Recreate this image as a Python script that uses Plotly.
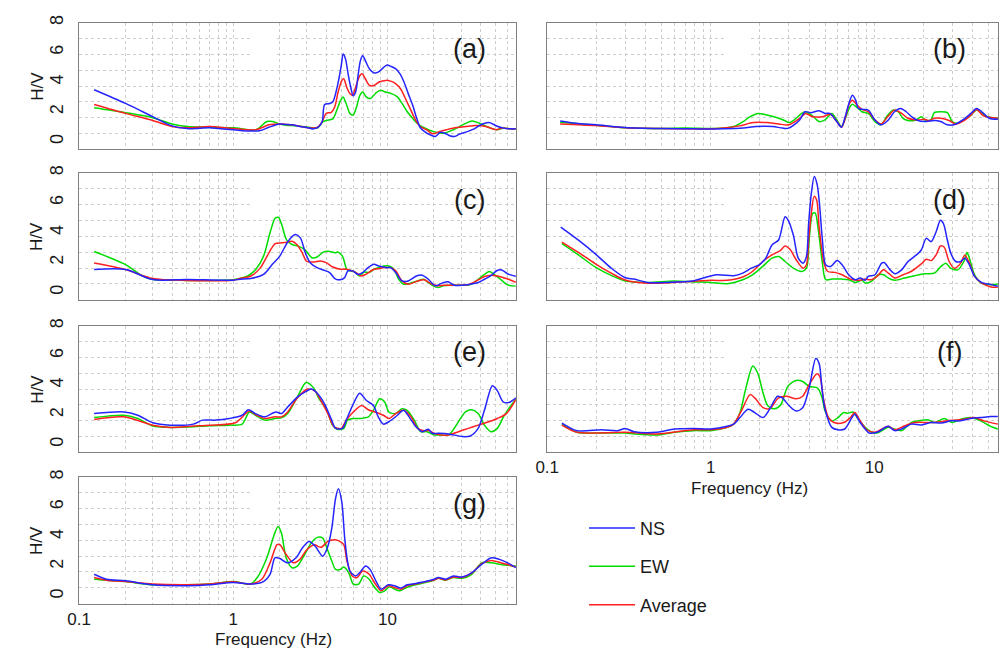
import plotly.graph_objects as go

# ---------------- data: (frequency Hz, H/V) ----------------
A_NS = [(0.125,3.5),(0.2,2.58),(0.3,1.69),(0.4,1.07),(0.5,0.89),(0.7,0.94),(0.8,0.89),(1.0,0.81),(1.3,0.72),(1.5,0.76),(1.7,0.98),(2.0,1.2),(2.2,1.17),(2.41,1.14),(2.7,1.03),(2.99,0.96),(3.31,0.87),(3.59,1.03),(3.77,1.36),(3.91,2.51),(4.23,2.58),(4.42,2.69),(4.74,3.79),(5.01,5.12),(5.15,5.9),(5.34,5.57),(5.57,4.46),(5.8,3.57),(5.98,3.09),(6.21,3.35),(6.44,4.46),(6.67,5.46),(6.9,5.79),(7.18,5.46),(7.64,4.9),(8.19,4.63),(8.69,4.68),(9.29,4.94),(9.94,5.17),(10.58,5.06),(11.32,4.9),(12.05,4.57),(12.79,4.02),(13.62,3.24),(14.54,2.47),(15.46,1.58),(16.28,0.96),(17.57,0.65),(18.95,0.47),(20.42,0.36),(21.9,0.63),(23.55,0.58),(25.3,0.41),(27.23,0.36),(29.35,0.52),(32.2,0.65),(36.52,0.87),(40.3,1.15),(45.54,1.3),(51.43,1.05),(56.67,0.92),(62.56,0.87),(68,0.87)]
A_EW = [(0.125,2.29),(0.2,1.96),(0.3,1.62),(0.4,1.2),(0.5,1.03),(0.7,0.98),(1.0,0.94),(1.4,0.81),(1.65,1.36),(1.8,1.36),(2.0,1.2),(2.2,1.12),(2.41,1.09),(2.99,1.0),(3.5,0.92),(3.82,1.36),(4.14,1.47),(4.42,1.54),(4.69,2.13),(4.97,2.8),(5.15,3.02),(5.43,2.47),(5.7,1.91),(5.98,1.8),(6.26,2.25),(6.62,3.13),(6.9,3.35),(7.27,3.02),(7.73,2.91),(8.46,3.31),(9.02,3.46),(9.66,3.35),(10.58,3.24),(11.59,3.02),(12.42,2.58),(13.43,2.02),(14.54,1.58),(15.55,1.25),(17.11,0.96),(19.69,0.7),(23,0.58),(26.68,0.81),(30.73,1.14),(35.33,1.4),(39.38,1.25),(45.54,0.96),(51.43,0.81),(56.67,0.92),(62.56,0.87),(68,0.87)]
A_AVG = [(0.125,2.51),(0.2,1.91),(0.3,1.43),(0.4,1.03),(0.5,0.94),(0.7,1.03),(1.0,0.89),(1.4,0.81),(1.7,1.14),(2.0,1.2),(2.2,1.17),(2.41,1.14),(2.99,0.96),(3.5,0.96),(3.77,1.36),(4.0,1.91),(4.32,1.98),(4.55,2.36),(4.78,3.35),(5.06,4.13),(5.2,4.24),(5.43,3.68),(5.7,3.24),(5.93,3.13),(6.26,3.79),(6.62,4.46),(6.85,4.57),(7.18,4.24),(7.64,3.79),(8.19,3.79),(8.83,4.02),(9.75,4.13),(10.58,4.06),(11.32,3.9),(12.14,3.57),(13.06,2.91),(14.17,2.13),(15.18,1.47),(16.28,1.03),(17.94,0.81),(19.69,0.54),(21.9,0.7),(24.1,0.81),(27.97,0.96),(32.2,1.03),(37.44,1.09),(43.52,1.03),(50.42,0.81),(55.2,0.92),(62.56,0.87),(68,0.87)]

B_NS = [(0.12,1.4),(0.15,1.25),(0.2,1.14),(0.3,0.96),(0.5,0.89),(0.8,0.87),(1.2,0.87),(1.58,0.92),(1.9,1.03),(2.4,1.03),(2.75,0.92),(3.0,0.92),(3.5,1.47),(3.77,2.02),(4.1,1.96),(4.6,2.09),(5.0,1.91),(5.35,1.91),(5.9,1.36),(6.3,0.98),(6.6,1.58),(7.0,2.58),(7.35,3.13),(7.7,2.8),(8.0,2.24),(8.6,2.18),(9.2,2.13),(10.1,1.47),(11,1.14),(12.2,1.47),(13.3,2.02),(14.5,2.24),(15.7,2.02),(16.9,1.69),(18.5,1.43),(20.3,1.36),(23.3,1.43),(25.5,1.36),(28,1.14),(30.7,1.14),(34.8,1.47),(39,1.91),(42.3,2.24),(46.6,1.91),(50.5,1.58),(57,1.51)]
B_EW = [(0.12,1.31),(0.2,1.12),(0.3,0.94),(0.5,0.89),(0.7,0.92),(1.0,0.89),(1.2,0.92),(1.38,1.03),(1.58,1.36),(1.74,1.69),(1.95,1.91),(2.2,1.8),(2.5,1.65),(2.83,1.43),(3.0,1.29),(3.2,1.43),(3.6,1.91),(3.8,2.02),(4.2,1.74),(4.6,1.36),(5.0,1.47),(5.5,1.91),(5.9,1.47),(6.3,1.03),(6.6,1.47),(7.1,2.35),(7.35,2.53),(7.85,2.31),(8.4,2.02),(9.2,1.91),(10.1,1.36),(11,1.14),(11.9,1.69),(13,2.13),(14,2.02),(15,1.58),(16.1,1.43),(18,1.47),(19.4,1.69),(20.7,1.43),(22.2,1.47),(23.3,1.96),(25.5,2.02),(28,1.96),(30,1.36),(32.3,1.25),(35.4,1.47),(39,1.8),(42.3,2.13),(45.6,1.91),(49.1,1.69),(57,1.58)]
B_AVG = [(0.12,1.2),(0.2,1.09),(0.3,0.94),(0.5,0.89),(1.0,0.87),(1.2,0.92),(1.5,1.07),(1.82,1.29),(2.2,1.29),(2.6,1.2),(3.0,1.14),(3.5,1.58),(3.8,1.91),(4.2,1.69),(4.85,1.69),(5.4,1.85),(5.9,1.36),(6.3,0.98),(6.6,1.47),(7.05,2.58),(7.35,2.8),(7.85,2.47),(8.4,2.18),(9.2,2.02),(10.1,1.47),(11,1.2),(12.2,1.74),(13.3,2.13),(14.7,1.91),(16.1,1.58),(18.5,1.47),(20.3,1.51),(21.7,1.43),(23.3,1.58),(25.5,1.58),(28.7,1.43),(31.5,1.2),(35.4,1.43),(39,1.8),(42.3,2.18),(46.6,1.74),(57,1.58)]

C_NS = [(0.125,1.53),(0.2,1.53),(0.3,0.86),(0.5,0.86),(1.0,0.82),(1.1,0.88),(1.3,0.93),(1.57,1.21),(1.79,1.88),(2.0,2.43),(2.27,3.43),(2.52,3.87),(2.72,3.65),(2.93,2.65),(3.15,1.99),(3.49,1.66),(3.83,1.5),(4.21,1.33),(4.55,0.93),(4.89,0.84),(5.27,0.99),(5.53,1.44),(5.95,1.44),(6.42,1.21),(6.89,1.33),(7.48,1.66),(8.16,1.88),(8.76,1.77),(9.78,1.66),(10.46,1.66),(11.3,1.33),(12.4,0.77),(13.6,0.77),(15.4,1.1),(16.8,1.15),(18.4,0.88),(20.4,0.44),(22.5,0.62),(24.7,0.71),(27.1,0.48),(30.6,0.48),(34.4,0.55),(38.8,0.66),(42.6,0.88),(46.6,1.1),(51,1.45),(55,1.5),(60,1.25),(68,1.08)]
C_EW = [(0.125,2.74),(0.16,2.3),(0.2,1.86),(0.26,1.08),(0.3,0.86),(0.39,0.82),(0.5,0.8),(0.7,0.8),(1.0,0.84),(1.1,0.93),(1.24,1.1),(1.4,1.55),(1.57,2.43),(1.74,4.09),(1.87,4.98),(1.96,5.02),(2.06,4.53),(2.21,3.54),(2.4,3.21),(2.64,3.1),(2.93,2.83),(3.23,2.32),(3.49,2.37),(3.83,2.7),(4.12,2.76),(4.55,2.65),(4.76,2.7),(5.1,2.43),(5.44,1.55),(5.7,1.44),(6.12,1.37),(6.55,1.1),(7.06,1.37),(7.57,1.33),(8.16,1.55),(8.76,1.66),(9.44,1.77),(10.2,1.77),(11.0,1.55),(11.8,0.89),(12.7,0.55),(13.9,0.6),(15.7,0.77),(17.2,0.88),(18.4,0.66),(19.8,0.44),(21.3,0.33),(23,0.44),(25.2,0.48),(27.7,0.48),(32,0.48),(35.2,0.55),(38.8,0.88),(42.6,1.21),(45.7,1.4),(49.2,1.2),(54,0.88),(60,0.5),(68,0.42)]
C_AVG = [(0.125,1.97),(0.2,1.53),(0.3,0.93),(0.5,0.8),(1.0,0.82),(1.1,0.93),(1.3,1.1),(1.5,1.66),(1.7,2.65),(1.87,3.27),(2.06,3.32),(2.21,3.36),(2.4,3.43),(2.58,3.21),(2.8,2.65),(2.98,2.1),(3.32,2.03),(3.66,2.1),(4.0,1.99),(4.42,1.7),(4.93,1.55),(5.44,1.55),(5.87,1.44),(6.25,1.33),(6.72,1.1),(7.23,1.21),(8.0,1.5),(8.76,1.59),(9.78,1.66),(10.46,1.66),(11.3,1.44),(12.4,0.77),(13.6,0.55),(15.4,0.73),(17.2,0.84),(18.9,0.62),(21,0.44),(23,0.48),(26.4,0.48),(30.6,0.48),(33.6,0.53),(37.8,0.77),(42.6,1.06),(46.9,1.15),(51.4,1.1),(56,1.0),(62,0.85),(68,0.68)]

D_NS = [(0.121,4.37),(0.156,3.48),(0.196,2.6),(0.248,1.6),(0.3,0.98),(0.34,0.89),(0.41,0.67),(0.54,0.67),(0.79,0.78),(0.9,0.96),(1.09,1.18),(1.38,1.12),(1.57,1.29),(1.77,1.62),(1.98,1.85),(2.17,2.29),(2.37,3.18),(2.6,3.51),(2.85,5.06),(2.98,4.83),(3.2,3.84),(3.43,2.29),(3.67,1.96),(3.85,2.4),(3.97,4.61),(4.12,6.6),(4.3,7.76),(4.48,7.2),(4.62,6.0),(4.82,3.51),(5.05,1.85),(5.41,1.74),(5.93,2.14),(6.36,1.85),(6.98,1.18),(7.66,0.85),(8.2,0.96),(8.8,0.81),(9.2,1.07),(10.1,1.18),(11.1,1.96),(11.5,2.0),(12.5,1.51),(13.4,1.25),(14.7,1.51),(16.1,2.07),(18.1,2.51),(19.4,2.84),(20.8,3.62),(22.3,3.4),(23.9,4.06),(25.4,4.83),(26.5,4.61),(28,3.51),(29.4,2.62),(31.5,2.07),(33.8,2.07),(35.8,2.29),(38.2,1.85),(41.1,1.07),(45.2,0.67),(51.9,0.52),(57,0.41)]
D_EW = [(0.123,3.26),(0.156,2.49),(0.196,1.71),(0.248,1.12),(0.3,0.76),(0.41,0.67),(0.6,0.76),(0.79,0.7),(1.0,0.67),(1.26,0.58),(1.57,0.85),(1.8,1.18),(2.08,1.74),(2.37,2.29),(2.6,2.4),(2.85,2.07),(3.2,1.62),(3.6,1.4),(3.85,1.62),(4.0,3.51),(4.2,5.28),(4.35,5.32),(4.55,4.17),(4.82,1.96),(5.05,0.85),(5.53,0.89),(6.36,0.89),(6.98,0.85),(7.66,0.67),(8.4,0.81),(8.8,0.63),(9.6,0.74),(10.6,1.18),(11.4,1.18),(12.2,0.96),(13.4,0.81),(15.3,0.96),(17.7,1.12),(20.3,1.25),(23.3,1.29),(25.6,1.74),(27.4,1.96),(29.3,1.62),(32.4,1.51),(35.3,2.07),(36.9,2.67),(38.2,2.29),(41.1,1.18),(45.2,0.63),(51.9,0.52),(57,0.56)]
D_AVG = [(0.123,3.37),(0.156,2.66),(0.196,1.93),(0.248,1.27),(0.3,0.83),(0.41,0.61),(0.79,0.74),(1.0,0.81),(1.26,0.81),(1.57,1.03),(1.8,1.4),(2.08,2.07),(2.37,2.51),(2.66,2.8),(2.85,3.11),(3.05,2.89),(3.35,2.14),(3.67,1.62),(3.85,1.85),(3.97,3.51),(4.12,5.28),(4.29,6.43),(4.45,6.16),(4.6,4.39),(4.93,1.96),(5.2,1.4),(5.76,1.34),(6.36,1.18),(7.15,0.89),(8.0,0.81),(8.8,0.89),(9.6,0.85),(10.4,1.07),(11.4,1.51),(12.2,1.29),(13.4,0.96),(15,1.18),(16.8,1.4),(19.4,1.91),(20.8,2.22),(22.3,2.13),(23.9,2.51),(25.4,3.11),(26.8,3.02),(28.7,2.07),(30.9,1.62),(33.8,1.96),(35.8,2.51),(38.2,1.96),(41.1,1.07),(45.2,0.63),(51.9,0.36),(57,0.36)]

E_NS = [(0.125,2.09),(0.195,2.2),(0.24,1.98),(0.3,1.47),(0.39,1.31),(0.55,1.38),(0.63,1.65),(0.77,1.65),(0.94,1.76),(1.14,1.98),(1.25,2.35),(1.39,2.09),(1.6,1.87),(1.77,2.09),(1.9,2.2),(2.05,2.09),(2.25,2.53),(2.6,3.2),(2.96,3.59),(3.2,3.75),(3.5,3.46),(3.9,2.75),(4.3,1.76),(4.6,1.09),(5.1,1.09),(5.4,1.65),(6.0,2.75),(6.6,3.46),(7.3,2.97),(8.1,2.64),(8.7,1.87),(9.4,1.38),(10.2,1.54),(11.6,1.98),(12.7,2.31),(13.8,1.87),(15.3,1.2),(16.8,0.87),(18.4,1.03),(19.5,0.76),(21.4,0.76),(24.9,0.72),(30.5,0.54),(34.4,0.58),(38.7,1.09),(42.5,2.31),(47.9,3.97),(51.5,3.64),(56.5,2.86),(62,2.86),(68,3.15)]
E_EW = [(0.125,1.82),(0.195,1.98),(0.24,1.76),(0.3,1.25),(0.39,1.16),(0.55,1.2),(0.7,1.27),(0.94,1.31),(1.14,1.38),(1.27,2.2),(1.39,1.98),(1.6,1.65),(1.86,1.76),(2.05,1.8),(2.25,2.09),(2.6,3.2),(2.96,4.19),(3.3,3.86),(3.6,3.09),(4.0,2.42),(4.4,1.31),(4.7,1.03),(5.2,1.09),(5.5,1.65),(6.0,1.76),(6.6,1.76),(7.5,1.87),(8.1,2.31),(8.9,3.09),(9.6,2.86),(10.2,2.2),(11.3,2.09),(12.4,2.42),(13.4,2.31),(14.9,1.65),(16.4,0.87),(18,0.87),(20,0.65),(21.4,0.65),(24.9,0.65),(27.5,1.2),(32,2.2),(35.2,2.35),(38.7,2.09),(42.5,1.31),(46.8,0.87),(51.5,1.09),(56.5,1.87),(62,2.53),(68,3.05)]
E_AVG = [(0.125,1.69),(0.195,1.87),(0.3,1.31),(0.39,1.16),(0.55,1.25),(0.7,1.31),(1.03,1.47),(1.27,2.27),(1.39,2.02),(1.6,1.76),(1.86,1.87),(2.05,1.87),(2.25,2.2),(2.6,3.15),(3.03,3.75),(3.4,3.59),(3.7,2.97),(4.1,2.09),(4.5,1.2),(5.0,1.09),(5.4,1.65),(6.0,2.2),(6.8,2.64),(7.5,2.35),(8.3,2.2),(9.4,1.98),(10.2,1.76),(11.3,2.09),(12.7,2.31),(14.2,1.87),(15.7,1.09),(17.2,0.94),(18.6,0.94),(20.4,0.72),(24.9,0.65),(28.8,0.87),(33.4,1.09),(38.7,1.31),(45.4,1.54),(51.5,1.76),(59,2.09),(68,3.05)]

F_NS = [(0.123,1.45),(0.152,0.94),(0.215,1.0),(0.27,0.94),(0.3,1.09),(0.34,0.87),(0.47,0.83),(0.6,1.05),(0.79,1.09),(1.0,1.05),(1.26,1.23),(1.38,1.38),(1.51,1.82),(1.69,2.38),(1.86,2.16),(2.09,1.82),(2.29,2.38),(2.56,3.26),(2.74,3.15),(3.03,2.6),(3.33,2.27),(3.65,2.49),(4.0,3.82),(4.39,5.81),(4.6,5.48),(4.8,3.71),(5.0,2.38),(5.5,1.16),(6.0,1.0),(6.6,1.05),(7.3,1.82),(7.6,2.05),(8.2,1.49),(8.8,1.05),(9.3,0.78),(10.4,0.83),(12.2,1.23),(13.3,0.94),(14.7,1.05),(16.9,1.38),(19.3,1.32),(22.3,1.49),(25.7,1.45),(29.5,1.6),(33.8,1.6),(38.9,1.76),(44.8,1.82),(51.5,1.89),(57,1.89)]
F_EW = [(0.123,1.38),(0.152,0.83),(0.215,0.78),(0.3,0.78),(0.34,0.72),(0.47,0.65),(0.6,0.83),(0.79,0.94),(1.0,0.94),(1.26,1.16),(1.38,1.38),(1.51,2.16),(1.65,3.93),(1.81,5.3),(1.94,4.81),(2.09,3.48),(2.24,2.6),(2.45,2.42),(2.69,2.71),(2.96,3.93),(3.33,4.33),(3.65,4.26),(4.0,3.93),(4.5,3.82),(4.8,3.15),(5.0,2.27),(5.5,1.6),(6.0,1.82),(6.5,2.16),(6.9,2.11),(7.4,2.2),(8.0,1.71),(8.8,1.16),(9.7,0.83),(10.4,0.78),(12.2,1.16),(13.3,1.05),(14.7,0.94),(16.9,1.49),(18.6,1.6),(21.3,1.67),(23.4,1.49),(26.8,1.76),(30,1.49),(33.8,1.71),(38.9,1.82),(44.8,1.6),(51.5,1.23),(57,1.05)]
F_AVG = [(0.123,1.31),(0.152,0.83),(0.3,0.83),(0.47,0.72),(0.79,1.0),(1.0,1.0),(1.26,1.16),(1.38,1.38),(1.54,2.27),(1.74,3.37),(1.86,3.15),(2.09,2.49),(2.29,2.42),(2.6,3.15),(2.9,3.26),(3.33,3.09),(3.65,3.26),(4.0,4.04),(4.45,4.77),(4.65,4.59),(4.9,3.04),(5.25,1.82),(5.8,1.45),(6.5,1.49),(7.15,1.82),(7.6,2.16),(8.2,1.6),(9.0,1.0),(10.1,0.83),(12.2,1.23),(13.3,1.0),(15.4,1.27),(17.8,1.49),(22.3,1.49),(28.1,1.6),(35.5,1.71),(40.8,1.82),(46.8,1.6),(57,1.38)]

G_NS = [(0.125,1.47),(0.15,1.14),(0.2,1.03),(0.3,0.76),(0.5,0.7),(0.7,0.76),(1.0,0.92),(1.29,0.81),(1.53,0.92),(1.73,1.47),(1.86,2.58),(2.0,2.53),(2.25,2.24),(2.55,2.58),(2.8,3.24),(3.1,3.68),(3.4,3.35),(3.8,2.69),(4.1,3.35),(4.35,4.57),(4.6,6.56),(4.8,7.22),(5.05,6.34),(5.3,3.68),(5.7,1.69),(6.2,1.36),(6.6,1.58),(7.2,2.02),(7.7,1.8),(8.5,0.92),(9.1,0.47),(10.1,0.76),(11.1,0.7),(12.2,0.54),(13.4,0.76),(15.2,0.85),(17.6,0.98),(20,1.14),(21.4,1.25),(23.8,1.14),(26.7,1.36),(30.4,1.29),(35.2,1.58),(40.8,2.13),(47.1,2.58),(53.2,2.47),(60.2,2.24),(68,1.91)]
G_EW = [(0.125,1.14),(0.15,1.07),(0.2,0.98),(0.3,0.76),(0.5,0.76),(0.7,0.81),(1.0,0.98),(1.29,0.81),(1.43,1.25),(1.65,2.58),(1.84,4.13),(1.95,4.68),(2.05,4.24),(2.2,2.58),(2.4,1.91),(2.6,2.02),(2.9,2.8),(3.2,3.57),(3.5,3.95),(3.8,3.9),(4.0,3.35),(4.35,2.36),(4.6,1.8),(4.95,1.8),(5.2,1.96),(5.6,1.58),(6.0,0.81),(6.5,0.81),(7.0,1.36),(7.6,1.14),(8.1,0.7),(8.9,0.25),(9.6,0.36),(10.3,0.63),(11.1,0.47),(12,0.36),(13.3,0.58),(15.2,0.76),(17.6,0.92),(20,1.07),(21.4,1.2),(23.8,1.07),(26.7,1.25),(30.4,1.2),(35.2,1.47),(40.8,2.24),(47.1,2.24),(54.5,2.13),(68,2.02)]
G_AVG = [(0.125,1.25),(0.15,1.07),(0.2,0.98),(0.3,0.81),(0.5,0.76),(0.7,0.81),(1.0,0.96),(1.29,0.81),(1.53,1.14),(1.73,2.24),(1.92,3.46),(2.0,3.46),(2.2,2.8),(2.45,2.24),(2.7,2.47),(3.0,3.13),(3.35,3.46),(3.7,3.28),(4.1,3.68),(4.5,3.79),(4.8,3.73),(5.2,3.46),(5.45,2.36),(5.9,1.36),(6.35,1.25),(6.9,1.69),(7.6,1.47),(8.3,0.85),(9.1,0.36),(10.1,0.7),(11.1,0.58),(12.2,0.47),(13.4,0.7),(15.2,0.81),(17.6,0.96),(20,1.09),(21.4,1.2),(23.8,1.09),(26.7,1.29),(30.4,1.25),(35.2,1.54),(40.8,2.18),(47.1,2.4),(54.5,2.24),(68,1.96)]

PANEL_LABELS = ["(a)", "(b)", "(c)", "(d)", "(e)", "(f)", "(g)"]
PANEL_DATA = [(A_NS, A_EW, A_AVG), (B_NS, B_EW, B_AVG), (C_NS, C_EW, C_AVG),
              (D_NS, D_EW, D_AVG), (E_NS, E_EW, E_AVG), (F_NS, F_EW, F_AVG),
              (G_NS, G_EW, G_AVG)]
SERIES_NAMES = ["NS", "EW", "Average"]
Y_TICKS = [0, 2, 4, 6, 8]
X_TICKS = [0.1, 1, 10]
X_TICK_TEXT = ["0.1", "1", "10"]
X_MINOR = [0.2, 0.3, 0.4, 0.5, 0.6, 0.7, 0.8, 0.9, 2, 3, 4, 5, 6, 7, 8, 9, 20, 30, 40, 50, 60]

# ---------------- styling / layout ----------------
W, H = 1000, 650
FONT = "Liberation Sans, Arial, sans-serif"
COLORS = {"NS": "#2424ff", "EW": "#00dc00", "Average": "#ff2020"}
DRAW_ORDER = ["EW", "Average", "NS"]
GRID = "#cdcdcd"
FRAME = "#808080"
Y_RANGE = [-0.5, 8.0]
Y_GRID = [Y_RANGE[0] + k * (Y_RANGE[1] - Y_RANGE[0]) / 8 for k in range(1, 8)]

COLS = [(68, 510, 1.8325), (541.7, 998, 1.757)]
ROWS = [(15, 143), (167, 295.5), (322, 449.5), (475, 603)]
POS = [(0, 0), (0, 1), (1, 0), (1, 1), (2, 0), (2, 1), (3, 0)]  # (row, col)
SHOW_X_LABELS = {5, 6}
BOX_FX, BOX_FY = 0.81, 0.70   # white patch behind panel label (fraction of panel)

fig = go.Figure()
layout = dict(
    width=W, height=H, margin=dict(l=0, r=0, t=0, b=0), autosize=False,
    paper_bgcolor="white", plot_bgcolor="white",
    font=dict(family=FONT, color="#1a1a1a"),
    shapes=[], annotations=[],
)

for i, (series, label, (r, c)) in enumerate(zip(PANEL_DATA, PANEL_LABELS, POS)):
    n = i + 1
    xs = "x" if n == 1 else f"x{n}"
    ys = "y" if n == 1 else f"y{n}"
    x0, x1, xr = COLS[c]
    y0, y1 = ROWS[r]
    sd = dict(zip(SERIES_NAMES, series))
    for name in DRAW_ORDER:
        pts = sd[name]
        fig.add_trace(go.Scatter(
            x=[p[0] for p in pts], y=[p[1] for p in pts], mode="lines",
            line=dict(color=COLORS[name], width=1.5, shape="spline", smoothing=0.8),
            name=name, legendgroup=name, legendrank=SERIES_NAMES.index(name) + 1,
            showlegend=(n == 7), xaxis=xs, yaxis=ys, hoverinfo="skip"))
    layout["xaxis" if n == 1 else f"xaxis{n}"] = dict(
        domain=[x0 / W, x1 / W], anchor=ys, type="log", range=[-1, xr],
        tickmode="array", tickvals=X_TICKS, ticktext=X_TICK_TEXT,
        showticklabels=(i in SHOW_X_LABELS), ticks="", ticklen=0,
        tickfont=dict(size=17, family=FONT, color="#1a1a1a"),
        showgrid=True, gridcolor=GRID, griddash="dot", gridwidth=1,
        minor=dict(tickmode="array", tickvals=X_MINOR, showgrid=True,
                   gridcolor=GRID, griddash="dot", gridwidth=1, ticks=""),
        showline=True, mirror=True, linecolor=FRAME, linewidth=1.2, zeroline=False)
    layout["yaxis" if n == 1 else f"yaxis{n}"] = dict(
        domain=[1 - y1 / H, 1 - y0 / H], anchor=xs, range=Y_RANGE,
        tickmode="array", tickvals=Y_TICKS, tickangle=-90,
        showticklabels=(c == 0), ticks="", ticklabelstandoff=8,
        tickfont=dict(size=18, family=FONT, color="#1a1a1a"),
        showgrid=False,
        minor=dict(tickmode="array", tickvals=Y_GRID, showgrid=True,
                   gridcolor=GRID, griddash="dot", gridwidth=1, ticks=""),
        showline=True, mirror=True, linecolor=FRAME, linewidth=1.2, zeroline=False)
    # white patch behind the panel label (shape coordinates on a log axis are log10 values)
    layout["shapes"].append(dict(
        type="rect", xref=xs, yref=ys,
        x0=-1 + BOX_FX * (xr + 1), x1=xr,
        y0=Y_RANGE[0] + BOX_FY * (Y_RANGE[1] - Y_RANGE[0]), y1=Y_RANGE[1],
        fillcolor="white", line=dict(width=0), layer="between"))
    layout["annotations"].append(dict(
        text=label, xref=f"{xs} domain", yref=f"{ys} domain", x=0.893, y=0.79,
        showarrow=False, xanchor="center", yanchor="middle",
        font=dict(size=27, family=FONT, color="#1a1a1a")))
    if c == 0:
        layout["annotations"].append(dict(
            text="H/V", xref="paper", yref="paper", x=25 / W,
            y=1 - (y0 + y1) / 2 / H, textangle=-90, showarrow=False,
            xanchor="center", yanchor="middle",
            font=dict(size=17, family=FONT, color="#1a1a1a")))

for (xc, yc) in [(746, 486), (265, 639)]:
    layout["annotations"].append(dict(
        text="Frequency (Hz)", xref="paper", yref="paper", x=xc / W, y=1 - yc / H,
        showarrow=False, xanchor="center", yanchor="middle",
        font=dict(size=17, family=FONT, color="#1a1a1a")))

layout["legend"] = dict(
    x=579 / W, y=1 - 508 / H, xanchor="left", yanchor="top",
    bgcolor="rgba(0,0,0,0)", borderwidth=0, traceorder="grouped",
    tracegroupgap=12, itemwidth=46,
    font=dict(size=18, family=FONT, color="#1a1a1a"))
layout["showlegend"] = True

fig.update_layout(**layout)
fig.write_html("out.html", config={"displayModeBar": False},
               post_script="document.body.style.margin='0px';")
